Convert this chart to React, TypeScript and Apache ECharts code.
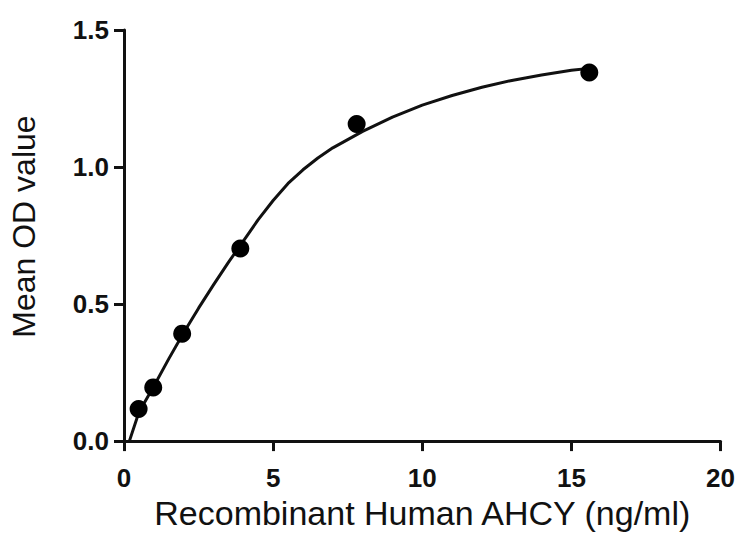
import React, { useEffect, useRef } from "react";
import * as echarts from "echarts";

const concentrations = [0.49, 0.98, 1.95, 3.9, 7.8, 15.6];
const meanOD = [0.117, 0.196, 0.392, 0.703, 1.157, 1.345];

const curveX = [0.18, 0.5, 1, 1.5, 2, 2.5, 3, 3.5, 4, 4.5, 5, 5.5, 6, 6.5, 7, 7.5, 8, 9, 10, 11, 12, 13, 14, 15, 15.6];
const curveY = [0, 0.105, 0.2, 0.3, 0.395, 0.485, 0.57, 0.652, 0.73, 0.808, 0.878, 0.94, 0.99, 1.033, 1.07, 1.1, 1.13, 1.182, 1.226, 1.261, 1.291, 1.316, 1.336, 1.353, 1.36];

const xTicks = [0, 5, 10, 15, 20];
const yTicks = [0, 0.5, 1.0, 1.5];

const FONT = "'Liberation Sans', Arial, sans-serif";
const INK = "#111111";

export default function App() {
  const ref = useRef<HTMLDivElement>(null);
  useEffect(() => {
    if (!ref.current) return;
    const chart = echarts.init(ref.current, undefined, { renderer: "svg" });
    chart.setOption({
      animation: false,
      backgroundColor: "#ffffff",
      grid: { left: 123, right: 14, top: 30, bottom: 90, containLabel: false },
      xAxis: {
        type: "value",
        min: xTicks[0],
        max: xTicks[xTicks.length - 1],
        interval: 5,
        name: "Recombinant Human AHCY (ng/ml)",
        nameLocation: "middle",
        nameGap: 54,
        nameTextStyle: { fontFamily: FONT, fontSize: 34, color: INK, fontWeight: "normal" },
        axisLine: { show: true, onZero: false, lineStyle: { color: INK, width: 3 } },
        axisTick: { show: true, length: 10, lineStyle: { color: INK, width: 3 } },
        axisLabel: { margin: 24, fontFamily: FONT, fontSize: 26, fontWeight: "bold", color: INK },
        splitLine: { show: false },
      },
      yAxis: {
        type: "value",
        min: yTicks[0],
        max: yTicks[yTicks.length - 1],
        interval: 0.5,
        name: "Mean OD value",
        nameLocation: "middle",
        nameGap: 84,
        nameTextStyle: {
          fontFamily: FONT,
          fontSize: 32,
          color: INK,
          fontWeight: "normal",
          padding: [0, 0, 0, 18],
        },
        axisLine: { show: true, onZero: false, lineStyle: { color: INK, width: 3 } },
        axisTick: { show: true, length: 10, lineStyle: { color: INK, width: 3 } },
        axisLabel: {
          margin: 15,
          fontFamily: FONT,
          fontSize: 26,
          fontWeight: "bold",
          color: INK,
          formatter: (v: number) => v.toFixed(1),
        },
        splitLine: { show: false },
      },
      series: [
        {
          type: "line",
          data: curveX.map((x, i) => [x, curveY[i]]),
          smooth: false,
          showSymbol: false,
          symbol: "none",
          lineStyle: { color: INK, width: 3, join: "round" },
          z: 2,
        },
        {
          type: "scatter",
          data: concentrations.map((x, i) => [x, meanOD[i]]),
          symbol: "circle",
          symbolSize: 18,
          itemStyle: { color: "#000000", opacity: 1 },
          z: 3,
        },
      ],
    });
    return () => chart.dispose();
  }, []);
  return <div ref={ref} style={{ width: 738, height: 535, position: "absolute", left: 0, top: 0 }} />;
}
